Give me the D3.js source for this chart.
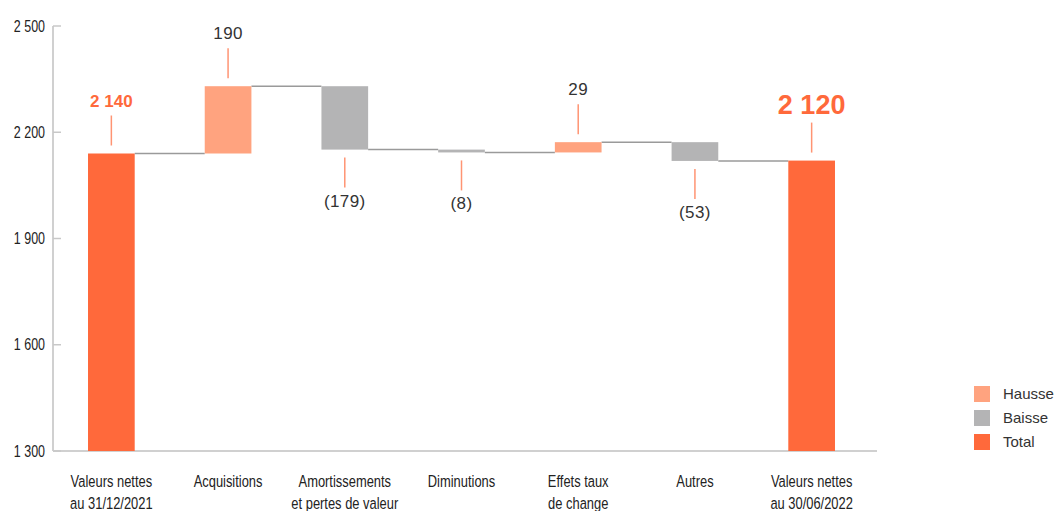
<!DOCTYPE html>
<html>
<head>
<meta charset="utf-8">
<script src="https://cdn.jsdelivr.net/npm/d3@7"></script>
<style>
  body { margin: 0; background: #fff; }
  svg { display: block; }
  .cond { font-family: "Liberation Sans", Arial, sans-serif; }
  .num { font-family: "Liberation Sans", Arial, Helvetica, sans-serif; }
</style>
</head>
<body>
<svg id="chart" width="1061" height="511"></svg>
<script>
// ---- data ----
const categories = [
  ["Valeurs nettes", "au 31/12/2021"],
  ["Acquisitions"],
  ["Amortissements", "et pertes de valeur"],
  ["Diminutions"],
  ["Effets taux", "de change"],
  ["Autres"],
  ["Valeurs nettes", "au 30/06/2022"]
];
const kinds = ["total", "up", "down", "down", "up", "down", "total"];
const values = [2140, 190, -179, -8, 29, -53, 2120];
const valueLabels = ["2 140", "190", "(179)", "(8)", "29", "(53)", "2 120"];
const yTicks = [1300, 1600, 1900, 2200, 2500];
const yTickLabels = ["1 300", "1 600", "1 900", "2 200", "2 500"];
const legendItems = [["Hausse", "up"], ["Baisse", "down"], ["Total", "total"]];

const colors = { up: "#FFA37F", down: "#B4B4B5", total: "#FF693B" };
const leaderColor = "#FF9473";

// ---- compute waterfall ----
let running = 0;
const bars = values.map((v, i) => {
  let y0, y1;
  if (kinds[i] === "total") { y0 = 1300; y1 = v; running = v; }
  else { y0 = running; y1 = running + v; running = y1; }
  return { i, kind: kinds[i], v, y0, y1, end: kinds[i] === "total" ? v : y1 };
});

const svg = d3.select("#chart");
const x = d3.scaleBand().domain(d3.range(categories.length)).range([53, 870])
  .paddingInner(0.6).paddingOuter(0.3);
const y = d3.scaleLinear().domain([1300, 2500]).range([451, 26]);

// axes lines
svg.append("line").attr("x1", 53).attr("x2", 53).attr("y1", y(2500)).attr("y2", y(1300))
  .attr("stroke", "#d0d0d0").attr("stroke-width", 2);
svg.append("line").attr("x1", 53).attr("x2", 877).attr("y1", y(1300)).attr("y2", y(1300))
  .attr("stroke", "#d0d0d0").attr("stroke-width", 2);

// y ticks
const yAxis = svg.append("g");
yTicks.forEach((t, k) => {
  yAxis.append("line").attr("x1", 53).attr("x2", 61).attr("y1", y(t)).attr("y2", y(t))
    .attr("stroke", "#c8c8c8").attr("stroke-width", 1.5);
  yAxis.append("g").attr("transform", `translate(45,${y(t)}) scale(0.78,1)`)
    .append("text").attr("class", "cond").attr("x", 0).attr("y", 0).attr("dy", "0.35em")
    .attr("text-anchor", "end").attr("font-size", 16).attr("fill", "#222").text(yTickLabels[k]);
});

// connectors
bars.forEach((b, i) => {
  if (i < bars.length - 1) {
    svg.append("line")
      .attr("x1", x(i) + x.bandwidth()).attr("x2", x(i + 1))
      .attr("y1", y(b.end)).attr("y2", y(b.end))
      .attr("stroke", "#9a9a9a").attr("stroke-width", 1.5);
  }
});

// bars
svg.selectAll("rect.bar").data(bars).enter().append("rect")
  .attr("class", "bar")
  .attr("x", d => x(d.i)).attr("width", x.bandwidth())
  .attr("y", d => y(Math.max(d.y0, d.y1)))
  .attr("height", d => Math.abs(y(d.y0) - y(d.y1)))
  .attr("fill", d => colors[d.kind]);

// value labels with leader lines
bars.forEach((b, i) => {
  const cx = x(i) + x.bandwidth() / 2;
  const top = y(Math.max(b.y0, b.y1));
  const bot = y(Math.min(b.y0, b.y1));
  const gap = 8, len = 30;
  if (b.kind === "down") {
    const l0 = bot + gap, l1 = l0 + len;
    svg.append("line").attr("x1", cx).attr("x2", cx).attr("y1", l0).attr("y2", l1)
      .attr("stroke", leaderColor).attr("stroke-width", 1.5);
    svg.append("text").attr("class", "num").attr("x", cx).attr("y", l1 + 19)
      .attr("text-anchor", "middle").attr("font-size", 17).attr("letter-spacing", 0.4)
      .attr("fill", "#333").text(valueLabels[i]);
  } else {
    const l1 = top - gap, l0 = l1 - len;
    svg.append("line").attr("x1", cx).attr("x2", cx).attr("y1", l0).attr("y2", l1)
      .attr("stroke", leaderColor).attr("stroke-width", 1.5);
    const t = svg.append("text").attr("class", "num").attr("x", cx).attr("y", l0 - 9)
      .attr("text-anchor", "middle").text(valueLabels[i]);
    if (b.kind === "total") {
      t.attr("font-weight", "bold").attr("fill", colors.total)
        .attr("font-size", i === bars.length - 1 ? 27 : 17);
    } else {
      t.attr("font-size", 17).attr("letter-spacing", 0.4).attr("fill", "#333");
    }
  }
});

// category labels (condensed look via horizontal scaling)
categories.forEach((lines, i) => {
  const cx = x(i) + x.bandwidth() / 2;
  const g = svg.append("g").attr("transform", `translate(${cx},0) scale(0.76,1)`);
  const t = g.append("text").attr("class", "cond").attr("x", 0).attr("y", 487)
    .attr("text-anchor", "middle").attr("font-size", 17).attr("fill", "#222");
  lines.forEach((ln, k) => {
    t.append("tspan").attr("x", 0).attr("dy", k === 0 ? 0 : 22).text(ln);
  });
});

// legend
const lg = svg.append("g").attr("transform", "translate(974,386)");
legendItems.forEach(([label, kind], k) => {
  lg.append("rect").attr("x", 0).attr("y", k * 24).attr("width", 16).attr("height", 16)
    .attr("fill", colors[kind]);
  lg.append("text").attr("class", "num").attr("x", 29).attr("y", k * 24 + 8).attr("dy", "0.35em")
    .attr("font-size", 15).attr("fill", "#333").text(label);
});
</script>
</body>
</html>
